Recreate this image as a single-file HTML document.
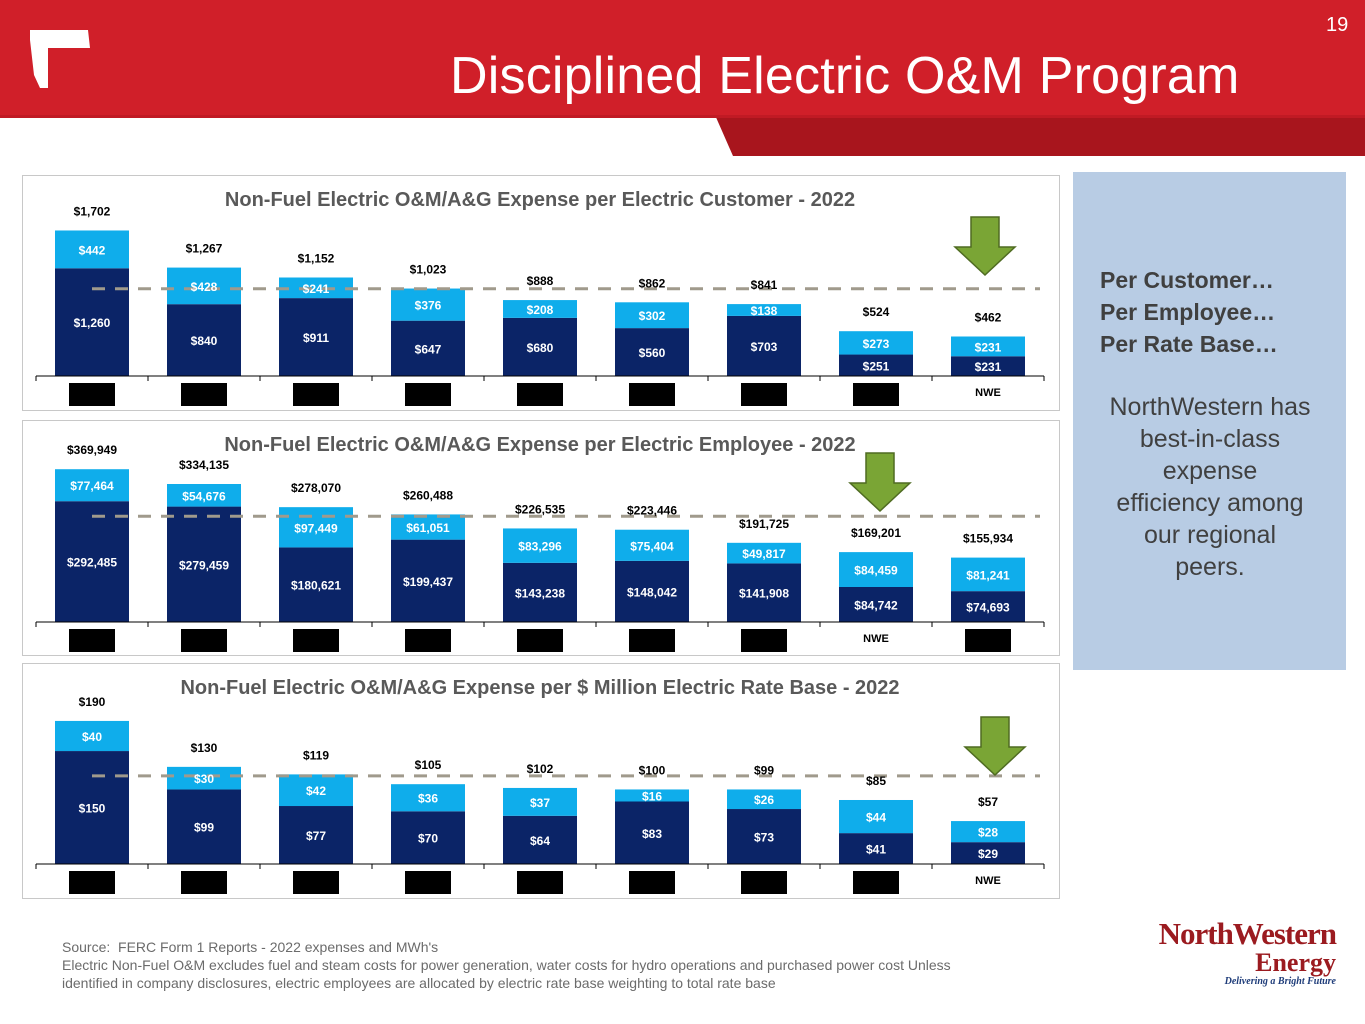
<!DOCTYPE html>
<html><head><meta charset="utf-8"><style>
body{margin:0;width:1365px;height:1024px;position:relative;background:#fff;font-family:"Liberation Sans",sans-serif;overflow:hidden}
.abs{position:absolute}
</style></head><body>
<svg class="abs" style="left:0;top:0" width="1365" height="160">
<rect x="0" y="0" width="1365" height="117" fill="#d01f29"/>
<polygon points="715,115 1365,115 1365,156 733,156" fill="#a8151d"/>
<rect x="0" y="115" width="1365" height="3" fill="#c01a24"/>
<polygon points="30,30 88,30 90,48 48,48 48,88 40,88 34,75 30,40" fill="#fff"/>
</svg>
<div class="abs" style="left:450px;top:46px;font-size:52px;color:#fff;letter-spacing:0.2px">Disciplined Electric O&amp;M Program</div>
<div class="abs" style="left:1326px;top:14px;font-size:20px;color:#fff">19</div>

<svg id="charts" class="abs" style="left:0;top:0" width="1365" height="1024"></svg>

<div class="abs" style="left:1073px;top:172px;width:273px;height:498px;background:#b8cce4"></div>
<div class="abs" style="left:1100px;top:264px;font-size:23px;font-weight:bold;color:#404040;line-height:32px">Per Customer…<br>Per Employee…<br>Per Rate Base…</div>
<div class="abs" style="left:1080px;top:391px;width:260px;text-align:center;font-size:25px;color:#404040;line-height:32px">NorthWestern has<br>best-in-class<br>expense<br>efficiency among<br>our regional<br>peers.</div>

<div class="abs" style="left:62px;top:938px;font-size:14px;color:#6b6b6b;line-height:18px;width:1000px">Source:&nbsp; FERC Form 1 Reports - 2022 expenses and MWh's<br>Electric Non-Fuel O&amp;M excludes fuel and steam costs for power generation, water costs for hydro operations and purchased power cost Unless<br>identified in company disclosures, electric employees are allocated by electric rate base weighting to total rate base</div>
<div class="abs" style="left:1138px;top:918px;width:198px;text-align:right;font-family:'Liberation Serif',serif;color:#9b1b20">
<div style="font-size:31px;font-weight:bold;letter-spacing:-1px;line-height:32px">NorthWestern</div>
<div style="font-size:26px;font-weight:bold;line-height:26px">Energy</div>
<div style="font-size:10px;font-style:italic;font-weight:bold;color:#1f3d7a">Delivering a Bright Future</div></div>

<script>
const c1Cats=["P1","P2","P3","P4","P5","P6","P7","P8","NWE"];
const c1Bottom=[1260,840,911,647,680,560,703,251,231];
const c1Top=[442,428,241,376,208,302,138,273,231];
const c1Total=["$1,702","$1,267","$1,152","$1,023","$888","$862","$841","$524","$462"];
const c1Avg=1020;
const c2Cats=["P1","P2","P3","P4","P5","P6","P7","NWE","P9"];
const c2Bottom=[292485,279459,180621,199437,143238,148042,141908,84742,74693];
const c2Top=[77464,54676,97449,61051,83296,75404,49817,84459,81241];
const c2Total=[369949,334135,278070,260488,226535,223446,191725,169201,155934];
const c2Avg=256000;
const c3Cats=["P1","P2","P3","P4","P5","P6","P7","P8","NWE"];
const c3Bottom=[150,99,77,70,64,83,73,41,29];
const c3Top=[40,30,42,36,37,16,26,44,28];
const c3Total=[190,130,119,105,102,100,99,85,57];
const c3Avg=117;

const svg=document.getElementById('charts');
const NS='http://www.w3.org/2000/svg';
function mk(t,a,txt){const e=document.createElementNS(NS,t);for(const k in a)e.setAttribute(k,a[k]);if(txt!=null)e.textContent=txt;svg.appendChild(e);return e;}
function fmt(v){return '$'+v.toLocaleString('en-US');}
function chart(o){
  const p=mk('rect',{x:22.5,y:o.top+0.5,width:1037,height:235,fill:'#fff',stroke:'#c8c8c8'});
  
  const t=mk('text',{x:540,y:o.top+31,'text-anchor':'middle','font-size':20,'font-weight':'bold',fill:'#595959','font-family':'Liberation Sans, sans-serif'},o.title);
  
  const base=o.top+o.base;
  const y=v=>base-v*o.scale;
  const cx=i=>92+i*112;
  o.cats.forEach((c,i)=>{
    const b=mk('rect',{x:cx(i)-37,y:y(o.bottom[i]),width:74,height:o.bottom[i]*o.scale,fill:'#0b2467'});
    
    const tb=mk('rect',{x:cx(i)-37,y:y(o.bottom[i]+o.topv[i]),width:74,height:o.topv[i]*o.scale,fill:'#0fadeb'});
    
  });
  const d=mk('line',{x1:92,x2:1040,y1:y(o.avg),y2:y(o.avg),stroke:'#a09a8c','stroke-width':3,'stroke-dasharray':'13,10'});
  
  o.cats.forEach((c,i)=>{
    const yb=y(o.bottom[i]),yt=y(o.bottom[i]+o.topv[i]);
    let l=mk('text',{x:cx(i),y:(yb+base)/2+5,'text-anchor':'middle','font-size':12,'font-weight':'bold',fill:'#fff'},fmt(o.bottom[i]));
    
    l=mk('text',{x:cx(i),y:(yb+yt)/2+5,'text-anchor':'middle','font-size':12,'font-weight':'bold',fill:'#fff'},fmt(o.topv[i]));
    
    l=mk('text',{x:cx(i),y:yt-15,'text-anchor':'middle','font-size':12,'font-weight':'bold',fill:'#000'},typeof o.total[i]==='string'?o.total[i]:fmt(o.total[i]));
    
    if(c==='NWE'){l=mk('text',{x:cx(i),y:base+20,'text-anchor':'middle','font-size':11,'font-weight':'bold',fill:'#000'},'NWE');
      }
    else{l=mk('rect',{x:cx(i)-23,y:base+7,width:46,height:23,fill:'#000'});
      }
  });
  const ax=mk('line',{x1:36,x2:1044,y1:base,y2:base,stroke:'#000','stroke-width':1});
  
  for(let i=0;i<=9;i++){const tk=mk('line',{x1:36+i*112,x2:36+i*112,y1:base,y2:base+5,stroke:'#000'});
    }
  const ax0=o.arrowX,ay0=o.top+o.arrowY;
  const ar=mk('polygon',{points:`${ax0-14},${ay0} ${ax0+14},${ay0} ${ax0+14},${ay0+30} ${ax0+30},${ay0+30} ${ax0},${ay0+58} ${ax0-30},${ay0+30} ${ax0-14},${ay0+30}`,fill:'#7aa535',stroke:'#4f6b22','stroke-width':1.5});
  
}
chart({name:'per-customer',top:175,base:201,scale:0.0855,title:'Non-Fuel Electric O&M/A&G Expense per Electric Customer - 2022',cats:c1Cats,bottom:c1Bottom,topv:c1Top,total:c1Total,avg:c1Avg,arrowX:985,arrowY:42});
chart({name:'per-employee',top:420,base:202,scale:0.000413,title:'Non-Fuel Electric O&M/A&G Expense per Electric Employee - 2022',cats:c2Cats,bottom:c2Bottom,topv:c2Top,total:c2Total,avg:c2Avg,arrowX:880,arrowY:33});
chart({name:'per-rate-base',top:663,base:201,scale:0.753,title:'Non-Fuel Electric O&M/A&G Expense per $ Million Electric Rate Base - 2022',cats:c3Cats,bottom:c3Bottom,topv:c3Top,total:c3Total,avg:c3Avg,arrowX:995,arrowY:54});
</script>
</body></html>
